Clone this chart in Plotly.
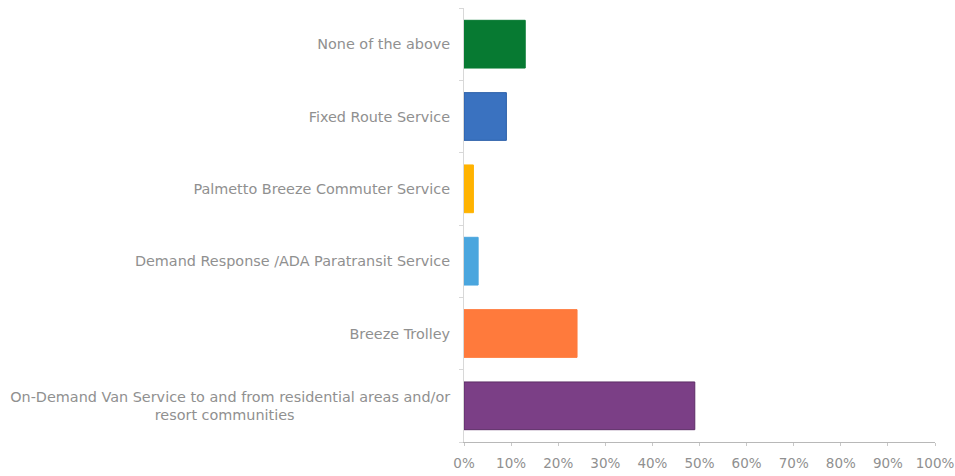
import plotly.graph_objects as go

# Survey: preferred transit service (share of respondents, %)
categories = [
    "None of the above",
    "Fixed Route Service",
    "Palmetto Breeze Commuter Service",
    "Demand Response /ADA Paratransit Service",
    "Breeze Trolley",
    "On-Demand Van Service to and from residential areas and/or<br>resort communities" + "\u00a0" * 34,
]
shares = [13, 9, 2, 3, 24, 49]
bar_colors = ["#077a32", "#3a72c0", "#ffb300", "#4aa6de", "#ff7a3c", "#7b3f86"]
edge_colors = ["#077a32", "#2a5ea8", "#ffb300", "#4aa6de", "#ff7a3c", "#5c2c66"]
x_ticks = list(range(0, 101, 10))
x_tick_text = [f"{v}%" for v in x_ticks]

fig = go.Figure(
    go.Bar(
        x=shares,
        y=categories,
        orientation="h",
        marker=dict(color=bar_colors, line=dict(color=edge_colors, width=1)),
        hoverinfo="skip",
    )
)

fig.update_layout(
    width=955,
    height=476,
    margin=dict(l=464, r=20, t=8, b=34),
    paper_bgcolor="white",
    plot_bgcolor="white",
    bargap=0.34,
    showlegend=False,
    font=dict(family="DejaVu Sans", size=14.4, color="#909090"),
)

fig.update_xaxes(
    range=[0, 100],
    tickvals=x_ticks,
    ticktext=x_tick_text,
    showgrid=False,
    zeroline=False,
    showline=True,
    linecolor="#b8b8b8",
    linewidth=1,
    ticks="outside",
    ticklen=3,
    tickcolor="#c8c8c8",
    ticklabelstandoff=6,
    automargin=False,
    tickfont=dict(size=13.5, color="#909090"),
)

fig.update_yaxes(
    categoryorder="array",
    categoryarray=categories[::-1],
    showgrid=False,
    showline=True,
    linecolor="#d8d8d8",
    linewidth=1,
    ticks="outside",
    ticklen=4,
    tickcolor="#d8d8d8",
    tickson="boundaries",
    ticklabelstandoff=10,
    automargin=False,
    tickfont=dict(size=14.4, color="#909090"),
)

fig.write_html("out.html")
